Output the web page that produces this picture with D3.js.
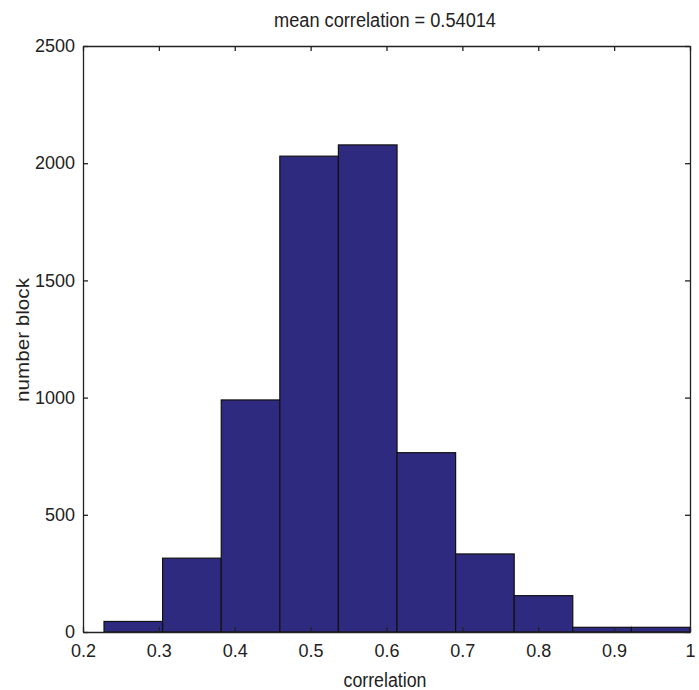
<!DOCTYPE html>
<html>
<head>
<meta charset="utf-8">
<script src="https://cdn.jsdelivr.net/npm/d3@7"></script>
<style>
  body { margin: 0; background: #fff; }
  text { font-family: "Liberation Sans", Arial, sans-serif; fill: #222; }
</style>
</head>
<body>
<div id="chart"></div>
<script>
// histogram bins (MATLAB hist, 10 bins) and counts
var binEdges = [0.2277, 0.3049, 0.3822, 0.4594, 0.5366, 0.6139, 0.6911, 0.7683, 0.8455, 0.9228, 1.0];
var counts = [45, 315, 990, 2030, 2078, 765, 333, 155, 20, 20];
var xTicks = [0.2, 0.3, 0.4, 0.5, 0.6, 0.7, 0.8, 0.9, 1];
var yTicks = [0, 500, 1000, 1500, 2000, 2500];
var titleText = "mean correlation = 0.54014";
var xLabel = "correlation";
var yLabel = "number block";

var width = 699, height = 690;
var margin = {top: 46, right: 9, bottom: 58, left: 83};

var svg = d3.select("#chart").append("svg")
    .attr("width", width)
    .attr("height", height);

var x = d3.scaleLinear().domain([0.2, 1]).range([margin.left, width - margin.right]);
var y = d3.scaleLinear().domain([0, 2500]).range([height - margin.bottom, margin.top]);

var bins = counts.map(function(c, i) { return {x0: binEdges[i], x1: binEdges[i + 1], n: c}; });

//Bars
svg.append("g").selectAll("rect")
    .data(bins)
    .enter().append("rect")
    .attr("x", function(d) { return x(d.x0); })
    .attr("y", function(d) { return y(d.n); })
    .attr("width", function(d) { return x(d.x1) - x(d.x0); })
    .attr("height", function(d) { return y(0) - y(d.n); })
    .attr("fill", "#2e2a80")
    .attr("stroke", "#111")
    .attr("stroke-width", 1.2);

//Axes: ticks point inward, box on all four sides
var tickLen = 5;
var bottomAxis = d3.axisBottom(x).tickValues(xTicks).tickFormat(d3.format("")).tickSizeInner(-tickLen).tickSizeOuter(0).tickPadding(12);
var topAxis = d3.axisTop(x).tickValues(xTicks).tickFormat("").tickSizeInner(-tickLen).tickSizeOuter(0);
var leftAxis = d3.axisLeft(y).tickValues(yTicks).tickFormat(d3.format("d")).tickSizeInner(-tickLen).tickSizeOuter(0).tickPadding(8);
var rightAxis = d3.axisRight(y).tickValues(yTicks).tickFormat("").tickSizeInner(-tickLen).tickSizeOuter(0);

function styleAxis(g) {
    g.selectAll("path.domain").attr("stroke", "#222").attr("stroke-width", 1.3);
    g.selectAll(".tick line").attr("stroke", "#222").attr("stroke-width", 1.3);
    g.selectAll(".tick text").attr("fill", "#222").style("font-size", "18px").attr("font-family", null);
}

svg.append("g").attr("transform", "translate(0," + y(0) + ")").call(bottomAxis).call(styleAxis);
svg.append("g").attr("transform", "translate(0," + y(2500) + ")").call(topAxis).call(styleAxis);
svg.append("g").attr("transform", "translate(" + x(0.2) + ",0)").call(leftAxis).call(styleAxis);
svg.append("g").attr("transform", "translate(" + x(1) + ",0)").call(rightAxis).call(styleAxis);

//Title and labels (narrow, tall glyphs like the original)
svg.append("text")
    .attr("x", 385).attr("y", 27)
    .attr("text-anchor", "middle")
    .style("font-size", "20px")
    .attr("textLength", 222).attr("lengthAdjust", "spacingAndGlyphs")
    .text(titleText);

svg.append("text")
    .attr("x", 385).attr("y", 687)
    .attr("text-anchor", "middle")
    .style("font-size", "20px")
    .attr("textLength", 83).attr("lengthAdjust", "spacingAndGlyphs")
    .text(xLabel);

svg.append("text")
    .attr("transform", "translate(29," + 340 + ") rotate(-90)")
    .attr("text-anchor", "middle")
    .style("font-size", "19px")
    .attr("textLength", 124).attr("lengthAdjust", "spacingAndGlyphs")
    .text(yLabel);
</script>
</body>
</html>
